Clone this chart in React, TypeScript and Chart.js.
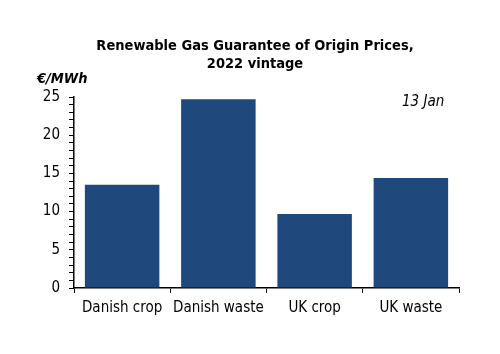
import React, { useEffect, useRef } from "react";
import { Chart, registerables } from "chart.js";

Chart.register(...registerables);

const categories = ["Danish crop", "Danish waste", "UK crop", "UK waste"];
const prices = [13.5, 24.7, 9.7, 14.4];
const titleLines = ["Renewable Gas Guarantee of Origin Prices,", "2022 vintage"];
const unitLabel = "€/MWh";
const dateLabel = "13 Jan";
const yMin = 0;
const yMax = 25;

const FONT = "'DejaVu Sans Condensed', 'DejaVu Sans', sans-serif";
const BAR = "#1F497D";

const textPlugin = {
  id: "texts",
  afterDraw(chart: any) {
    const ctx = chart.ctx;
    ctx.save();
    ctx.fillStyle = "#000";
    ctx.textAlign = "center";
    ctx.textBaseline = "alphabetic";
    ctx.font = `bold 14.5px ${FONT}`;
    ctx.fillText(titleLines[0], 255, 50);
    ctx.fillText(titleLines[1], 255, 68);
    ctx.textAlign = "left";
    ctx.font = `italic bold 14.5px ${FONT}`;
    ctx.fillText(unitLabel, 37, 83);
    ctx.font = `italic 15px ${FONT}`;
    ctx.fillText(dateLabel, 402, 106);
    ctx.restore();
  },
};

export default function App() {
  const ref = useRef<HTMLCanvasElement>(null);
  useEffect(() => {
    if (!ref.current) return;
    const chart = new Chart(ref.current, {
      type: "bar",
      data: {
        labels: categories,
        datasets: [
          {
            data: prices,
            backgroundColor: BAR,
            borderWidth: 0,
            barPercentage: 0.774,
            categoryPercentage: 1,
          },
        ],
      },
      options: {
        animation: false,
        responsive: false,
        maintainAspectRatio: false,
        layout: { padding: { top: 97, right: 41, left: 0, bottom: 0 } },
        plugins: { legend: { display: false }, tooltip: { enabled: false }, title: { display: false } },
        scales: {
          x: {
            grid: {
              display: true,
              drawOnChartArea: false,
              drawTicks: true,
              tickLength: 5,
              color: "#000",
              offset: true,
            },
            border: { display: true, color: "#000", width: 1.5 },
            ticks: {
              color: "#000",
              font: { family: FONT, size: 15 },
              padding: 6,
              maxRotation: 0,
              minRotation: 0,
              autoSkip: false,
            },
            afterFit(scale: any) {
              scale.height = 354 - 288;
            },
          },
          y: {
            min: yMin,
            max: yMax,
            grid: {
              display: true,
              drawOnChartArea: false,
              drawTicks: true,
              tickLength: 5,
              color: "#000",
            },
            border: { display: true, color: "#000", width: 1.5 },
            ticks: {
              stepSize: 1,
              autoSkip: false,
              color: "#000",
              font: { family: FONT, size: 15 },
              padding: 9,
              callback: (v: any) => (Number(v) % 5 === 0 ? String(v) : ""),
            },
            afterFit(scale: any) {
              scale.width = 74;
            },
          },
        },
      },
      plugins: [textPlugin],
    });
    return () => chart.destroy();
  }, []);
  return (
    <div style={{ position: "absolute", left: 0, top: 0, width: 500, height: 354, background: "#fff" }}>
      <canvas ref={ref} width={500} height={354} style={{ width: 500, height: 354 }} />
    </div>
  );
}
